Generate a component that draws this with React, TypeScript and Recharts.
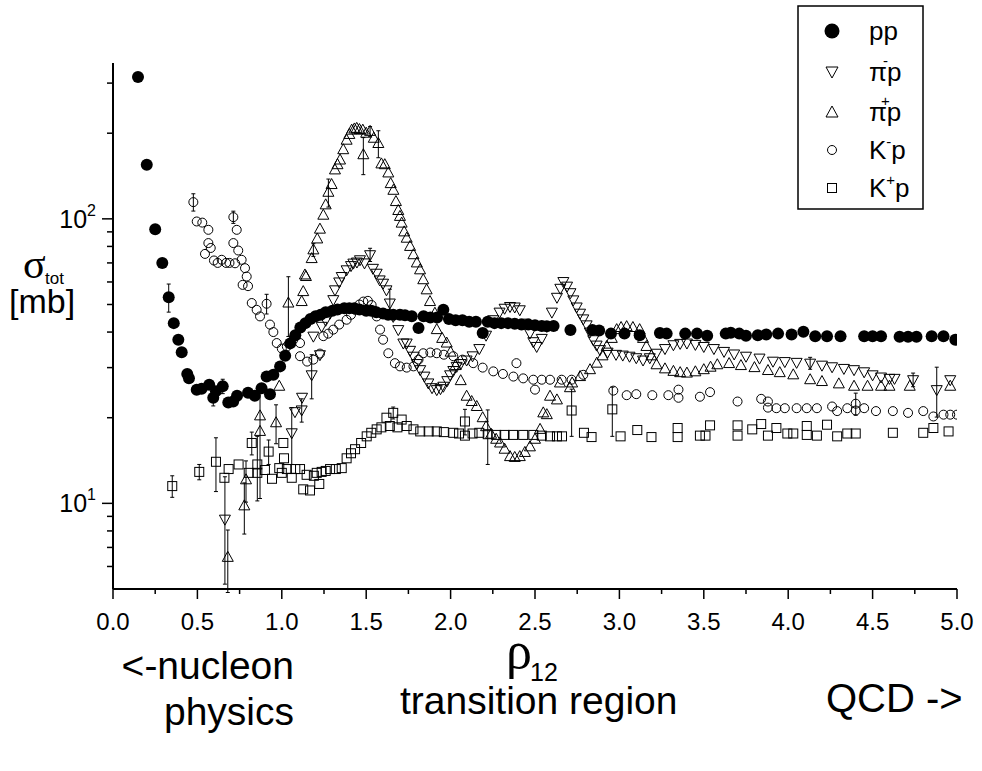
import React from "react";
import { ScatterChart, Scatter, XAxis, YAxis, ErrorBar } from "recharts";

// [rho12, sigma_tot (mb), error (mb)]
type Pt = [number, number, number?];

const PP: Pt[] = [
  [0.148, 315], [0.2, 155], [0.25, 92], [0.292, 70], [0.33, 53, 6], [0.36, 43], [0.387, 37.6], [0.407, 34],
  [0.44, 28.5], [0.45, 27.5], [0.496, 25.1], [0.525, 25.3], [0.57, 26.1], [0.594, 23.5, 1.5], [0.61, 24.8],
  [0.65, 25.8, 1.5], [0.683, 22.6], [0.712, 22.8], [0.735, 23.9], [0.8, 24.5], [0.84, 23.9], [0.88, 25.4],
  [0.91, 27.9], [0.93, 24.2], [0.95, 28.3], [0.99, 30.3], [1.02, 33], [1.05, 36.5], [1.08, 39], [1.11, 41.5],
  [1.14, 43], [1.17, 44.5], [1.2, 45.5], [1.23, 46], [1.26, 47], [1.3, 47.5], [1.33, 48], [1.37, 48.5],
  [1.4, 48.5], [1.43, 48.5], [1.46, 48], [1.5, 47.5], [1.53, 47.5], [1.56, 47], [1.6, 46.5], [1.63, 46],
  [1.66, 46], [1.7, 46], [1.73, 45.8], [1.77, 45.5], [1.81, 41.3], [1.84, 45.5], [1.88, 45], [1.92, 45],
  [1.957, 47.9], [1.99, 44.5], [2.03, 44], [2.07, 44], [2.11, 43.5], [2.15, 43.5], [2.19, 39.7], [2.22, 43.5],
  [2.26, 43], [2.3, 43], [2.34, 43], [2.38, 42.8], [2.42, 42.5], [2.46, 42.5], [2.5, 42.3], [2.54, 42],
  [2.57, 41.9], [2.61, 42], [2.71, 40.7], [2.84, 40.7], [2.88, 40.5], [2.95, 39.5], [3.03, 39.5], [3.12, 39],
  [3.24, 39.7], [3.28, 39.5], [3.39, 39.5], [3.46, 39.5], [3.52, 38.8], [3.63, 39.5], [3.66, 39.8], [3.71, 39.5],
  [3.75, 38.8], [3.82, 39], [3.87, 39.2], [3.94, 39.5], [4.02, 39.2], [4.09, 40.1], [4.16, 38.7], [4.23, 38.7],
  [4.31, 38.7], [4.45, 38.7], [4.5, 38.7], [4.55, 38.7], [4.66, 38.5], [4.71, 38.5], [4.76, 38.5], [4.85, 38.7],
  [4.92, 38.7], [4.99, 37.6],
];

const PI_MINUS: Pt[] = [
  [0.663, 8.8, 3.6], [1.059, 17.7, 4], [1.078, 21], [1.118, 21.3, 2], [1.12, 23.6], [1.177, 28.3, 5],
  [1.187, 38.7], [1.226, 33.3], [1.236, 41.9], [1.26, 44], [1.286, 46.6], [1.305, 52], [1.315, 56.3],
  [1.34, 60], [1.355, 62.7], [1.384, 66.2], [1.41, 68.5], [1.424, 69.9], [1.445, 70.5], [1.463, 71.8],
  [1.49, 70], [1.523, 74.8, 4], [1.54, 67], [1.562, 64.4], [1.58, 61], [1.6, 59.4], [1.62, 56.3],
  [1.64, 50.6, 6], [1.66, 45.4], [1.69, 40.8], [1.72, 36.6], [1.74, 36.6], [1.76, 34.5], [1.78, 32.9],
  [1.8, 31], [1.82, 29.5], [1.845, 28], [1.868, 26.5], [1.89, 25.5], [1.918, 25.1], [1.94, 25.3],
  [1.957, 25.8], [1.98, 27], [1.997, 28.3], [2.016, 29.3], [2.036, 30.3], [2.06, 31], [2.095, 31.9],
  [2.13, 33], [2.17, 35], [2.21, 39], [2.253, 44.2], [2.29, 47], [2.32, 48.5], [2.352, 49.2], [2.38, 49],
  [2.41, 47.9], [2.44, 43], [2.47, 39.7], [2.49, 37], [2.51, 35.6], [2.54, 38], [2.57, 41.9], [2.6, 47],
  [2.63, 53], [2.65, 57], [2.668, 60.2], [2.69, 58], [2.71, 55], [2.727, 51.9], [2.747, 49], [2.767, 46.6],
  [2.786, 44.5], [2.806, 42.4], [2.825, 40], [2.845, 37.6], [2.865, 36], [2.885, 34.7], [2.93, 34],
  [2.98, 33.4], [3.02, 33.2], [3.06, 32.9], [3.1, 32.5], [3.14, 31.9], [3.18, 32.5], [3.22, 33.7], [3.27, 35],
  [3.32, 36.1], [3.36, 36.5], [3.4, 36.6], [3.45, 36.2], [3.5, 35.6], [3.56, 35], [3.62, 34.2], [3.68, 33.5],
  [3.75, 32.9], [3.83, 32.4], [3.91, 31.6], [3.98, 31.5], [4.05, 31.3], [4.13, 31.1, 1.5], [4.2, 30.6],
  [4.26, 30.2], [4.33, 29.8], [4.39, 29.5], [4.45, 29], [4.5, 28.3], [4.55, 27.8], [4.6, 27.5], [4.63, 27.5],
  [4.74, 27.2, 1.5], [4.88, 25.1, 5], [4.96, 27.2],
];

const PI_PLUS: Pt[] = [
  [0.68, 6.46, 1.6], [0.778, 9.8, 2], [0.788, 12.1, 2], [0.871, 17.9, 7.5], [0.871, 20.3], [0.966, 19.2, 3],
  [0.985, 25.8], [1.039, 50.6, 12], [1.118, 51.2], [1.127, 55.5], [1.137, 63.5], [1.143, 62.7], [1.177, 72.5],
  [1.187, 77.8, 4], [1.21, 85], [1.226, 92], [1.246, 103], [1.26, 112], [1.276, 124, 14], [1.295, 132],
  [1.315, 148.6], [1.33, 155], [1.345, 161], [1.364, 175], [1.384, 189], [1.4, 198], [1.414, 205],
  [1.43, 207], [1.444, 208], [1.46, 206], [1.48, 205], [1.483, 168, 25], [1.5, 200], [1.523, 203, 8],
  [1.545, 192], [1.572, 184, 20], [1.59, 156], [1.61, 155], [1.631, 145], [1.645, 133], [1.661, 126],
  [1.676, 115], [1.69, 107], [1.7, 102], [1.71, 96.6], [1.725, 90], [1.74, 85.5], [1.76, 80], [1.78, 74.8],
  [1.8, 70], [1.819, 66.2], [1.838, 61.1], [1.858, 56.3], [1.878, 51.2], [1.907, 46.6], [1.918, 40.8],
  [1.95, 38], [1.977, 36.6], [2.0, 34], [2.03, 30.5], [2.06, 27], [2.095, 23.8], [2.125, 22.8], [2.155, 21.9],
  [2.19, 20], [2.21, 18.6], [2.24, 17.5], [2.27, 16.8], [2.293, 16.3], [2.32, 15.5], [2.352, 14.6],
  [2.38, 14.5], [2.41, 14.6], [2.44, 15.1], [2.47, 15.8], [2.5, 16.8], [2.53, 18.2], [2.549, 20.8],
  [2.57, 20.5], [2.589, 23.8], [2.63, 23.1], [2.648, 26.5], [2.707, 25.5], [2.72, 26.5], [2.767, 27.9],
  [2.826, 29.5], [2.866, 31.1], [2.9, 33], [2.925, 35.6], [2.955, 38], [2.984, 40.8], [3.01, 41.5],
  [3.043, 41.8], [3.08, 41.5], [3.12, 40.8], [3.14, 38], [3.16, 35.6], [3.19, 33], [3.22, 30.7], [3.27, 29.7],
  [3.32, 29.1], [3.36, 28.8], [3.4, 28.7], [3.45, 29], [3.5, 29.5], [3.54, 30.1], [3.58, 30.7], [3.65, 31],
  [3.72, 30.5], [3.8, 30], [3.88, 29.3], [3.95, 28.8], [4.03, 28.3], [4.13, 27.2], [4.2, 26.8], [4.3, 26.3],
  [4.39, 25.8], [4.47, 25.8], [4.55, 25.8], [4.6, 25.8], [4.72, 25.8], [4.96, 25.8],
];

const K_MINUS: Pt[] = [
  [0.476, 114.5, 8], [0.496, 97.9], [0.529, 97], [0.545, 75.3], [0.565, 91.5], [0.565, 82.2], [0.579, 79],
  [0.598, 71.4], [0.62, 70], [0.644, 71.8], [0.67, 70], [0.69, 70], [0.713, 101.4, 5], [0.713, 82.2],
  [0.723, 69.8], [0.733, 91.5], [0.742, 77.4], [0.762, 71.8], [0.768, 58.6], [0.782, 67.1], [0.792, 62.7],
  [0.8, 58], [0.822, 50.6], [0.851, 47.9], [0.871, 45.4], [0.91, 50.3, 4], [0.93, 42.5], [0.95, 40],
  [0.97, 36.6], [1.0, 35], [1.03, 35.6], [1.068, 37.6], [1.108, 36.6], [1.108, 32.9], [1.15, 31.5],
  [1.187, 32], [1.226, 33.6], [1.246, 38.7], [1.275, 39.5], [1.305, 40.8], [1.34, 42.5], [1.384, 44.2],
  [1.41, 46], [1.434, 47.9], [1.46, 50], [1.483, 51.2], [1.51, 51.5], [1.532, 49.8], [1.55, 47.5],
  [1.562, 45.4], [1.582, 40.8], [1.6, 37.6], [1.631, 33.7], [1.67, 31.1], [1.7, 30.3], [1.74, 30],
  [1.78, 30.3], [1.81, 32], [1.838, 33.7], [1.88, 33.9], [1.918, 33.7], [1.96, 33.3], [2.016, 32.9],
  [2.07, 32], [2.134, 31.1], [2.19, 30], [2.253, 29.1], [2.31, 28.5], [2.372, 27.9], [2.39, 31.1],
  [2.43, 27.5], [2.49, 27.2], [2.5, 25.1], [2.54, 27.2], [2.589, 27.2], [2.658, 27.2], [2.717, 27.2],
  [2.786, 28.3], [2.964, 24.9], [3.043, 24.0], [3.1, 24.2], [3.195, 24.0], [3.29, 24.0], [3.35, 25.1],
  [3.35, 23.5], [3.477, 23.7], [3.537, 24.6], [3.7, 22.8], [3.84, 23.3], [3.88, 22.8], [3.88, 21.7],
  [3.93, 21.6], [3.98, 21.6], [4.05, 21.6], [4.11, 21.6], [4.17, 21.6], [4.26, 21.9], [4.29, 21.1],
  [4.35, 21.6], [4.4, 22.4, 2], [4.4, 21.2], [4.45, 21.6], [4.52, 21.1], [4.62, 21.1], [4.71, 20.8],
  [4.8, 21.1], [4.86, 20.2], [4.92, 20.5], [4.96, 20.5], [5.0, 20.5],
];

const K_PLUS: Pt[] = [
  [0.351, 11.5, 1], [0.511, 12.9, 0.8], [0.61, 14.0, 3], [0.66, 12.3], [0.685, 13.2], [0.744, 13.7],
  [0.804, 12.8], [0.822, 16.3, 1.5], [0.855, 13.7, 3.5], [0.855, 12.8], [0.9, 13.1], [0.922, 15.2, 1.5],
  [0.942, 12.2], [0.985, 13.3], [1.0, 12.8], [1.009, 16.3], [1.013, 14.4], [1.03, 13.2], [1.059, 12.3],
  [1.08, 13.2], [1.108, 13.2], [1.127, 11.2], [1.147, 12.6], [1.167, 11.1], [1.19, 12.5], [1.207, 12.8],
  [1.222, 11.7], [1.236, 12.9], [1.26, 13], [1.286, 13.2], [1.32, 13.2], [1.355, 13.3], [1.384, 14.4],
  [1.41, 15], [1.434, 15.5], [1.47, 16.3], [1.503, 17.2], [1.53, 17.7], [1.562, 18.2], [1.59, 18.5],
  [1.62, 20], [1.64, 18.7], [1.66, 20.8, 1], [1.685, 18.5], [1.71, 19.7], [1.74, 18.7], [1.78, 18.2],
  [1.82, 17.9], [1.87, 17.9], [1.918, 17.9], [1.96, 17.8], [2.016, 17.7], [2.05, 17.6], [2.085, 19.4, 2],
  [2.085, 17.3], [2.13, 17.6], [2.17, 17.7], [2.22, 17.5, 3.8], [2.27, 17.4], [2.32, 17.4], [2.37, 17.4],
  [2.43, 17.4], [2.49, 17.4], [2.54, 17.3], [2.589, 17.2], [2.63, 17.2], [2.66, 17.2], [2.717, 21.2, 4],
  [2.79, 17.7], [2.835, 17.1], [2.958, 21.4, 4.2], [3.007, 17.2], [3.106, 18.1], [3.19, 17.1], [3.345, 18.4],
  [3.345, 17.1], [3.477, 17.3], [3.51, 17.3], [3.537, 18.8], [3.7, 18.8], [3.7, 17.3], [3.787, 18.2],
  [3.84, 19.0], [3.88, 17.3], [3.93, 18.4], [3.995, 17.6], [4.03, 17.6], [4.11, 18.7], [4.11, 17.4],
  [4.17, 17.3], [4.23, 18.9], [4.29, 17.2], [4.35, 17.6], [4.4, 17.6], [4.62, 17.7], [4.8, 17.7],
  [4.86, 18.4], [4.95, 17.9],
];

const X_TICKS = [0, 0.25, 0.5, 0.75, 1, 1.25, 1.5, 1.75, 2, 2.25, 2.5, 2.75, 3, 3.25, 3.5, 3.75, 4, 4.25, 4.5, 4.75, 5];
const Y_TICKS = [6, 7, 8, 9, 10, 20, 30, 40, 50, 60, 70, 80, 90, 100, 200, 300];
const Y_EXP: Record<number, string> = { 10: "1", 100: "2" };

const W = 982;
const H = 771;
const LEFT = 113;
const TOP = 63;
const RIGHT = 957;
const BOTTOM = 589;
const FONT = "'Liberation Sans', Arial, sans-serif";

const toRows = (pts: Pt[]) => pts.map(([x, y, e]) => ({ x, y, e: e ?? 0 }));

const Dot = (p: any) => <circle cx={p.cx} cy={p.cy} r={6} fill="#000" />;
const TriDown = (p: any) => (
  <path d={`M${p.cx - 5.5},${p.cy - 4} L${p.cx + 5.5},${p.cy - 4} L${p.cx},${p.cy + 6} Z`} fill="none" stroke="#000" strokeWidth={1} />
);
const TriUp = (p: any) => (
  <path d={`M${p.cx - 5.5},${p.cy + 4} L${p.cx + 5.5},${p.cy + 4} L${p.cx},${p.cy - 6} Z`} fill="none" stroke="#000" strokeWidth={1} />
);
const Ring = (p: any) => <circle cx={p.cx} cy={p.cy} r={4.5} fill="none" stroke="#000" strokeWidth={1} />;
const Box = (p: any) => <rect x={p.cx - 4.5} y={p.cy - 4.5} width={9} height={9} fill="none" stroke="#000" strokeWidth={1} />;

const XTick = (props: any) => {
  const { x, payload } = props;
  const v: number = payload.value;
  const major = Math.abs(v * 2 - Math.round(v * 2)) < 1e-6;
  return (
    <g>
      <line x1={x} x2={x} y1={BOTTOM} y2={BOTTOM + (major ? 10 : 5)} stroke="#000" strokeWidth={1.5} />
      {major && (
        <text x={x} y={630} textAnchor="middle" fontSize={24} fontFamily={FONT} fill="#000">
          {v.toFixed(1)}
        </text>
      )}
    </g>
  );
};

const YTick = (props: any) => {
  const { y, payload } = props;
  const v: number = payload.value;
  const exp = Y_EXP[v];
  return (
    <g>
      <line x1={LEFT - (exp ? 11 : 6)} x2={LEFT} y1={y} y2={y} stroke="#000" strokeWidth={1.5} />
      {exp && (
        <text x={96} y={y + 9} textAnchor="end" fontSize={25} fontFamily={FONT} fill="#000">
          10<tspan dy={-12} fontSize={16}>{exp}</tspan>
        </text>
      )}
    </g>
  );
};

const series = [
  { name: "pp", pts: PP, shape: Dot },
  { name: "K+p", pts: K_PLUS, shape: Box },
  { name: "K-p", pts: K_MINUS, shape: Ring },
  { name: "pi+p", pts: PI_PLUS, shape: TriUp },
  { name: "pi-p", pts: PI_MINUS, shape: TriDown },
];

function Overlay() {
  const t = { fontFamily: FONT, fill: "#000" };
  const rows = [31, 72, 112, 150, 188];
  const mx = 832;
  const tx = 869;
  return (
    <svg width={W} height={H} style={{ position: "absolute", left: 0, top: 0, pointerEvents: "none" }}>
      {/* y label */}
      <text x={23} y={278} fontSize={42} fontFamily="'Liberation Serif', serif">σ</text>
      <text x={45} y={284} fontSize={17} {...t}>tot</text>
      <text x={9} y={313} fontSize={34} {...t}>[mb]</text>
      {/* x label */}
      <text x={506} y={668} fontSize={52} fontFamily="'Liberation Serif', serif">ρ</text>
      <text x={530} y={681} fontSize={25} {...t}>12</text>
      {/* annotations */}
      <text x={294} y={679} textAnchor="end" fontSize={39} {...t}>&lt;-nucleon</text>
      <text x={294} y={725} textAnchor="end" fontSize={39} {...t}>physics</text>
      <text x={400} y={714} fontSize={39} {...t}>transition region</text>
      <text x={826} y={712} fontSize={40} {...t}>QCD -&gt;</text>
      {/* legend */}
      <rect x={798} y={6} width={125} height={203} fill="#fff" stroke="#000" strokeWidth={1.5} />
      <circle cx={mx} cy={rows[0]} r={7.5} fill="#000" />
      <path d={`M${mx - 6},${rows[1] - 5} L${mx + 6},${rows[1] - 5} L${mx},${rows[1] + 6} Z`} fill="none" stroke="#000" />
      <path d={`M${mx - 6},${rows[2] + 5} L${mx + 6},${rows[2] + 5} L${mx},${rows[2] - 6} Z`} fill="none" stroke="#000" />
      <circle cx={mx} cy={rows[3]} r={4.5} fill="none" stroke="#000" />
      <rect x={mx - 4.5} y={rows[4] - 4.5} width={9} height={9} fill="none" stroke="#000" />
      <text x={tx} y={rows[0] + 9} fontSize={26} {...t}>pp</text>
      <text x={tx} y={rows[1] + 9} fontSize={26} {...t}>
        π<tspan dx={-4} dy={-15} fontSize={15}>-</tspan><tspan dx={-1} dy={15}>p</tspan>
      </text>
      <text x={tx} y={rows[2] + 9} fontSize={26} {...t}>
        π<tspan dx={-6} dy={-15} fontSize={15}>+</tspan><tspan dx={-3} dy={15}>p</tspan>
      </text>
      <text x={tx} y={rows[3] + 9} fontSize={26} {...t}>
        K<tspan dy={-12} fontSize={15}>-</tspan><tspan dy={12}>p</tspan>
      </text>
      <text x={tx} y={rows[4] + 9} fontSize={26} {...t}>
        K<tspan dy={-12} fontSize={15}>+</tspan><tspan dy={12}>p</tspan>
      </text>
    </svg>
  );
}

export default function App() {
  return (
    <div style={{ position: "absolute", left: 0, top: 0, width: W, height: H, background: "#fff" }}>
      <ScatterChart width={W} height={H} margin={{ top: TOP, right: W - RIGHT, bottom: H - BOTTOM - 40, left: LEFT - 60 }}>
        <XAxis
          type="number"
          dataKey="x"
          domain={[0, 5]}
          ticks={X_TICKS}
          interval={0}
          height={40}
          allowDataOverflow
          tickLine={false}
          tick={<XTick />}
          axisLine={{ stroke: "#000", strokeWidth: 2 }}
        />
        <YAxis
          type="number"
          dataKey="y"
          scale="log"
          domain={[5, 353]}
          ticks={Y_TICKS}
          interval={0}
          width={60}
          allowDataOverflow
          tickLine={false}
          tick={<YTick />}
          axisLine={{ stroke: "#000", strokeWidth: 2 }}
        />
        {series.map((s) => (
          <Scatter key={s.name} name={s.name} data={toRows(s.pts)} shape={s.shape} isAnimationActive={false}>
            <ErrorBar dataKey="e" direction="y" width={2} stroke="#000" strokeWidth={1} />
          </Scatter>
        ))}
      </ScatterChart>
      <Overlay />
    </div>
  );
}
